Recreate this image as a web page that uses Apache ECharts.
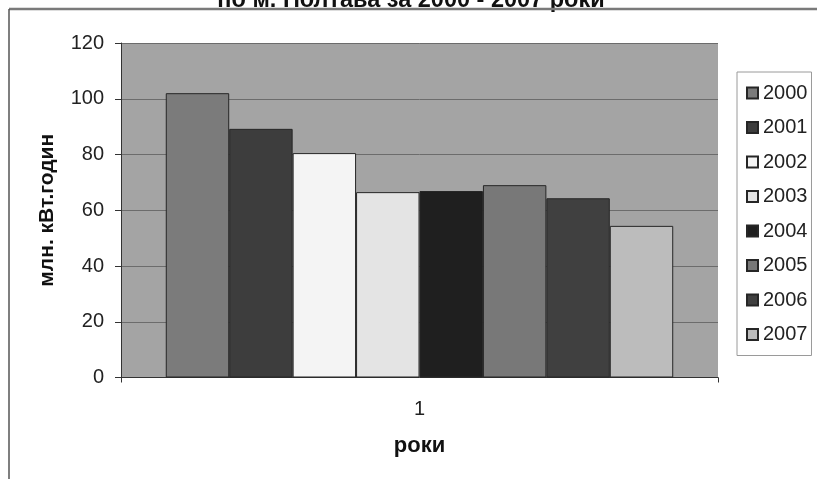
<!DOCTYPE html>
<html>
<head>
<meta charset="utf-8">
<script src="https://cdn.jsdelivr.net/npm/echarts@6/dist/echarts.min.js"></script>
<style>
  html, body { margin: 0; padding: 0; background: #fff; }
  #chart { width: 817px; height: 479px; }
</style>
</head>
<body>
<div id="chart"></div>
<script>
// Electricity consumption, Poltava, 2000-2007 (mln kWh)
const categories = ['1'];
const years = ['2000', '2001', '2002', '2003', '2004', '2005', '2006', '2007'];
const consumption = [102, 89.2, 80.5, 66.5, 66.9, 69, 64.3, 54.4];
const barColors = ['#7b7b7b', '#3d3d3d', '#f4f4f4', '#e4e4e4', '#1f1f1f', '#787878', '#404040', '#bcbcbc'];
const yTicks = [0, 20, 40, 60, 80, 100, 120];

const titleText = 'по м. Полтава за 2000 - 2007 роки';
const yName = 'млн. кВт.годин';
const xName = 'роки';

const FONT = '"Liberation Sans", Arial, sans-serif';

const chart = echarts.init(document.getElementById('chart'), null, { renderer: 'canvas' });

const series = years.map((y, i) => ({
  name: y,
  type: 'bar',
  data: [consumption[i]],
  barGap: '0%',
  barCategoryGap: '15%',
  itemStyle: { color: barColors[i], borderColor: '#262626', borderWidth: 1 },
  emphasis: { disabled: true },
  animation: false
}));

chart.setOption({
  animation: false,
  backgroundColor: '#ffffff',
  title: {
    text: titleText,
    left: 406,
    textAlign: 'center',
    top: -16,
    textStyle: { fontFamily: FONT, fontWeight: 'bold', fontSize: 23.5, color: '#111' }
  },
  graphic: [
    { type: 'line', shape: { x1: 9, y1: 9, x2: 817, y2: 9 }, style: { stroke: '#7a7a7a', lineWidth: 2.5 }, z: 10 },
    { type: 'line', shape: { x1: 9, y1: 9, x2: 9, y2: 479 }, style: { stroke: '#555', lineWidth: 1.5 }, z: 10 }
  ],
  legend: {
    orient: 'vertical',
    left: 737,
    top: 72,
    padding: [11, 4, 11, 9],
    itemWidth: 11,
    itemHeight: 11,
    itemGap: 14.5,
    itemTextGap: 12,
    icon: 'rect',
    backgroundColor: '#ffffff',
    borderColor: '#9a9a9a',
    borderWidth: 1,
    borderRadius: 0,
    data: years,
    textStyle: { fontFamily: FONT, fontSize: 20, color: '#222', lineHeight: 20 }
  },
  grid: { left: 121, right: 99, top: 43, bottom: 101.5, show: true, backgroundColor: '#a4a4a4', borderWidth: 0 },
  xAxis: {
    type: 'category',
    data: categories,
    name: xName,
    nameLocation: 'middle',
    nameGap: 57,
    nameTextStyle: { fontFamily: FONT, fontWeight: 'bold', fontSize: 22, color: '#111' },
    axisLine: { lineStyle: { color: '#333', width: 1 } },
    axisTick: { show: true, length: 5, lineStyle: { color: '#333' } },
    axisLabel: { fontFamily: FONT, fontSize: 20, color: '#222', margin: 22 }
  },
  yAxis: {
    type: 'value',
    min: 0,
    max: 120,
    interval: 20,
    name: yName,
    nameLocation: 'middle',
    nameGap: 63,
    nameTextStyle: { fontFamily: FONT, fontWeight: 'bold', fontSize: 21, color: '#111' },
    axisLine: { show: true, lineStyle: { color: '#333', width: 1 } },
    axisTick: { show: true, length: 6, lineStyle: { color: '#333' } },
    axisLabel: {
      fontFamily: FONT, fontSize: 20, color: '#222', margin: 17,
      formatter: v => (yTicks.indexOf(v) >= 0 ? String(v) : '')
    },
    splitLine: { show: true, lineStyle: { color: '#6c6c6c', width: 1 } }
  },
  series: series
});
</script>
</body>
</html>
